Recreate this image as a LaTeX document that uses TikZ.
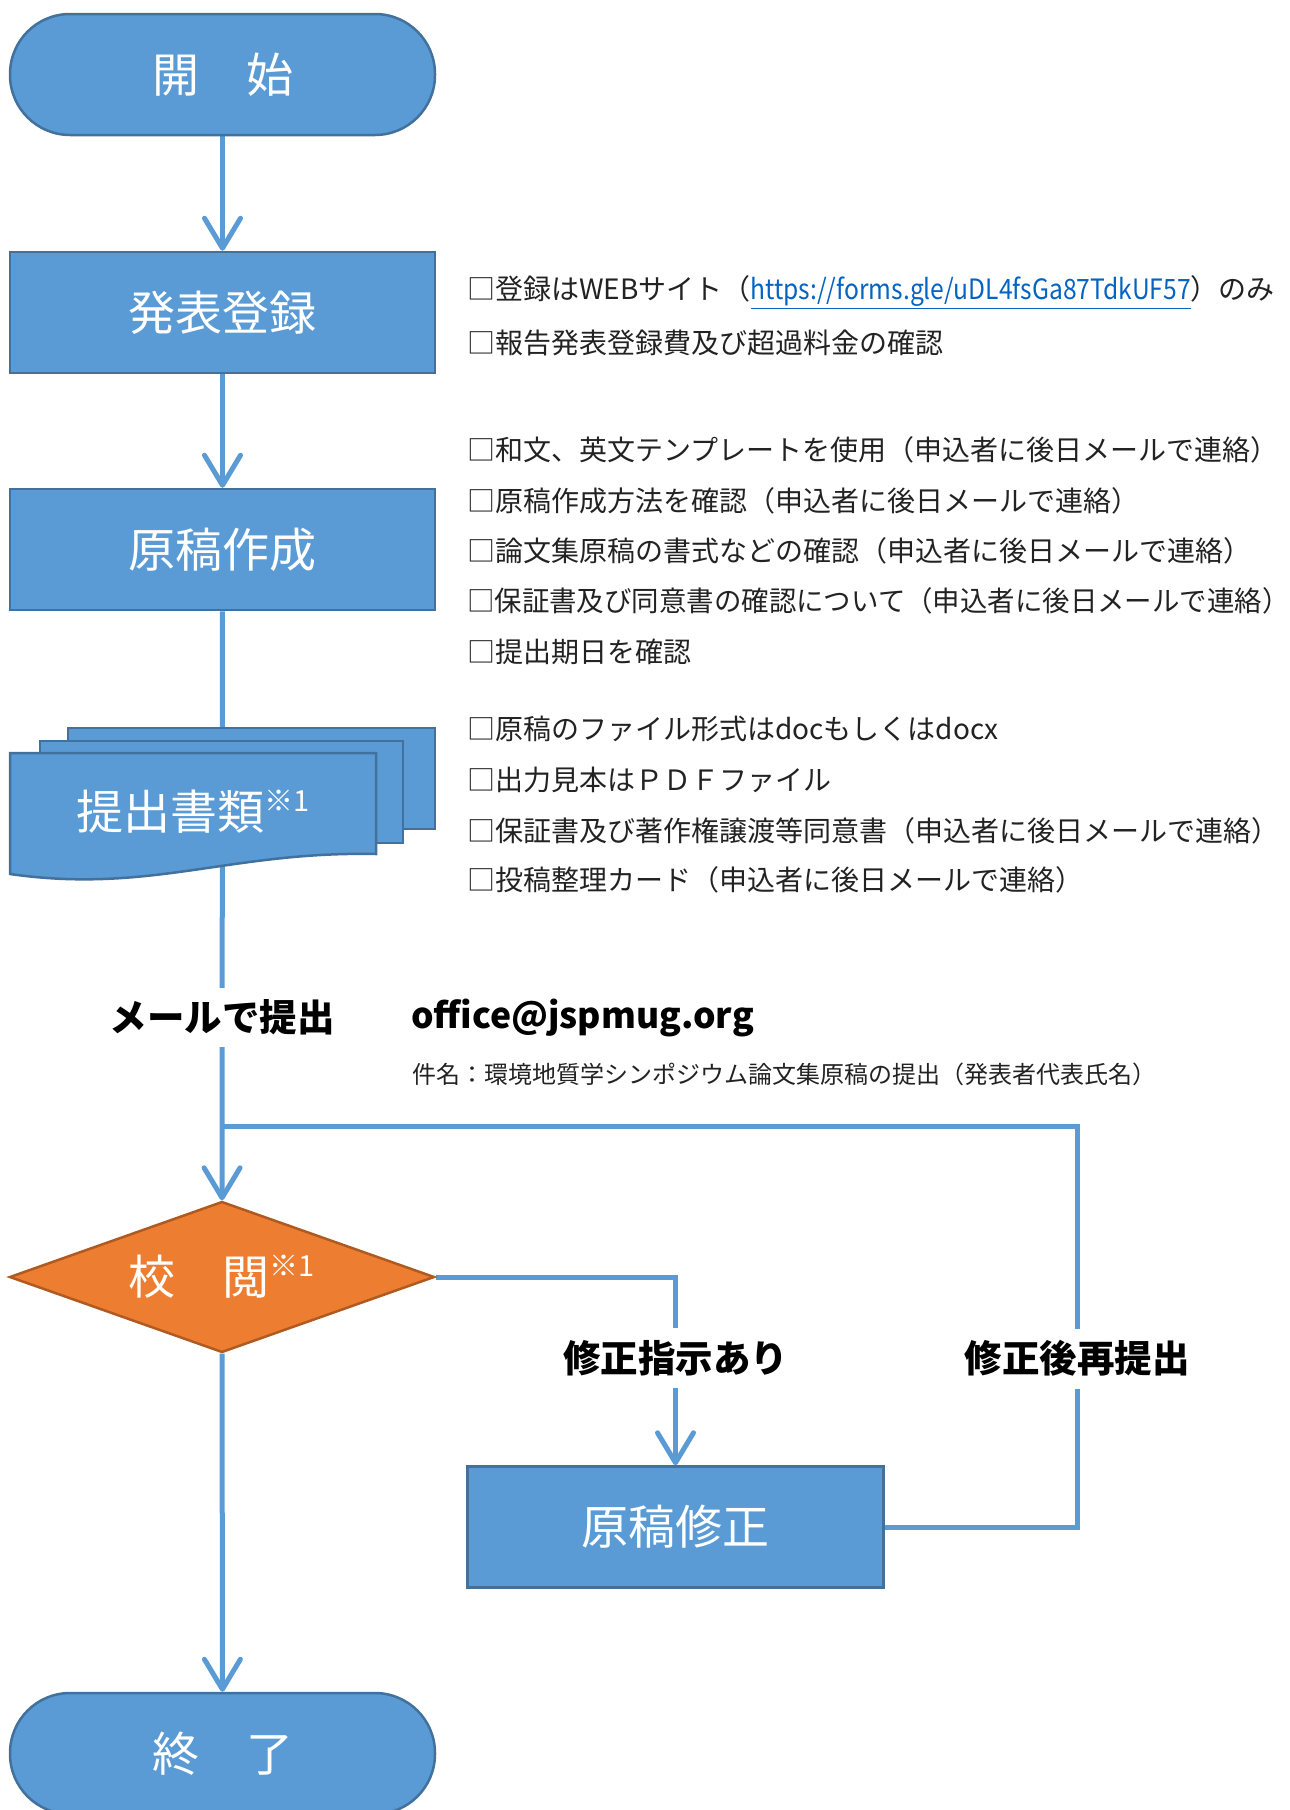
\documentclass[tikz,border=0pt]{standalone}
\usepackage{fontspec}
\setmainfont{Noto Sans CJK JP}
\usetikzlibrary{arrows.meta,shapes.geometric,backgrounds}
\definecolor{boxblue}{HTML}{5B9BD5}
\definecolor{boxedge}{HTML}{41719C}
\definecolor{dorange}{HTML}{ED7D31}
\definecolor{dedge}{HTML}{AE5A21}
\definecolor{linkblue}{HTML}{0563C1}
\definecolor{txt}{HTML}{222222}
\newcommand\bigfont{\fontsize{47}{52}\selectfont}
\newcommand\notefont{\fontsize{28}{32}\selectfont}
\newcommand\labfont{\fontsize{37.5}{42}\selectfont\bfseries}
\newcommand\supmark{\raisebox{0.38em}{\fontsize{29}{31}\selectfont ※1}}
\tikzset{
 flowline/.style={draw=boxblue, line width=5pt},
 arr/.style={flowline, -{Straight Barb[length=30pt,width=36pt,round]}},
 termbox/.style={draw=boxedge, fill=boxblue, line width=2.5pt, minimum width=425pt, minimum height=121pt, rounded corners=60pt, text=white, font=\bigfont},
 procbox/.style={draw=boxedge, fill=boxblue, line width=2.5pt, minimum width=425pt, minimum height=121pt, text=white, font=\bigfont},
 decbox/.style={diamond, aspect=2.8, draw=dedge, fill=dorange, line width=2.5pt, minimum width=425pt, minimum height=151pt, inner sep=0pt, text=white, font=\bigfont},
 docsheet/.style={draw=boxedge, fill=boxblue, line width=2.5pt},
 note/.style={anchor=west, inner sep=0pt, text=txt, font=\notefont},
 lab/.style={fill=white, text=black, font=\labfont, inner xsep=4pt, inner ysep=12pt},
}
\begin{document}
\begin{tikzpicture}[x=1pt,y=-1pt]
\useasboundingbox (0,0) rectangle (1290,1810);
% nodes
\node[termbox] (start) at (222.5,74.5) {開\hspace{1em}始};
\node[procbox] (reg) at (222.5,312.5) {発表登録};
\node[procbox] (gen) at (222.5,549.5) {原稿作成};
% stacked document
\draw[docsheet] (68,728) rectangle (435,829);
\draw[docsheet] (40,741) rectangle (403,843);
\draw[docsheet] (10,753) -- (376,753) -- (376,854) .. controls (230,851) and (150,894) .. (10,874) -- cycle;
\node[text=white, font=\bigfont, inner sep=0pt] (doc) at (193,812) {提出書類\supmark};
\node[decbox] (review) at (222,1277) {校\hspace{1em}閲\supmark};
\node[procbox, minimum width=416pt] (fix) at (675.5,1527) {原稿修正};
\node[termbox] (end) at (222.5,1753.5) {終\hspace{1em}了};
\coordinate (loopc) at (1077,1126);
\coordinate (join) at (222.5,1126);
% notes
\node[note] (n1) at (467,292) {□登録はWEBサイト（\textcolor{linkblue}{\underline{\scalebox{0.88}[1]{https://forms.gle/uDL4fsGa87TdkUF57}}}）のみ};
\node[note] (n2) at (467,343) {□報告発表登録費及び超過料金の確認};
\node[note] (n3) at (467,450) {□和文、英文テンプレートを使用（申込者に後日メールで連絡）};
\node[note] (n4) at (467,501) {□原稿作成方法を確認（申込者に後日メールで連絡）};
\node[note] (n5) at (467,551) {□論文集原稿の書式などの確認（申込者に後日メールで連絡）};
\node[note] (n6) at (467,601) {\scalebox{0.98}[1]{□保証書及び同意書の確認について（申込者に後日メールで連絡）}};
\node[note] (n7) at (467,652) {□提出期日を確認};
\node[note] (n8) at (467,729) {□原稿のファイル形式はdocもしくはdocx};
\node[note] (n9) at (467,780) {□出力見本はＰＤＦファイル};
\node[note] (n10) at (467,831) {□保証書及び著作権譲渡等同意書（申込者に後日メールで連絡）};
\node[note] (n11) at (467,880) {□投稿整理カード（申込者に後日メールで連絡）};
\node[anchor=west, inner sep=0pt, font=\fontsize{35.5}{40}\selectfont\bfseries] (mail) at (411,1018) {office@jspmug.org};
\node[anchor=west, inner sep=0pt, text=txt, font=\fontsize{24}{28}\selectfont] (subj) at (412,1074) {件名：環境地質学シンポジウム論文集原稿の提出（発表者代表氏名）};
% connectors
\begin{scope}[on background layer]
\draw[arr] (start) -- (reg);
\draw[arr] (reg) -- (gen);
\draw[arr] (gen) -- node[lab, pos=0.69] (mlab) {メールで提出} (review);
\draw[arr] (review.east) -| node[lab, pos=0.715] (flab) {修正指示あり} (fix.north);
\draw[flowline] (fix.east) -- (fix.east -| loopc) -- node[lab, pos=0.42] (rlab) {修正後再提出} (loopc) -- (join);
\draw[arr] (review) -- (end);
\end{scope}
\end{tikzpicture}
\end{document}
